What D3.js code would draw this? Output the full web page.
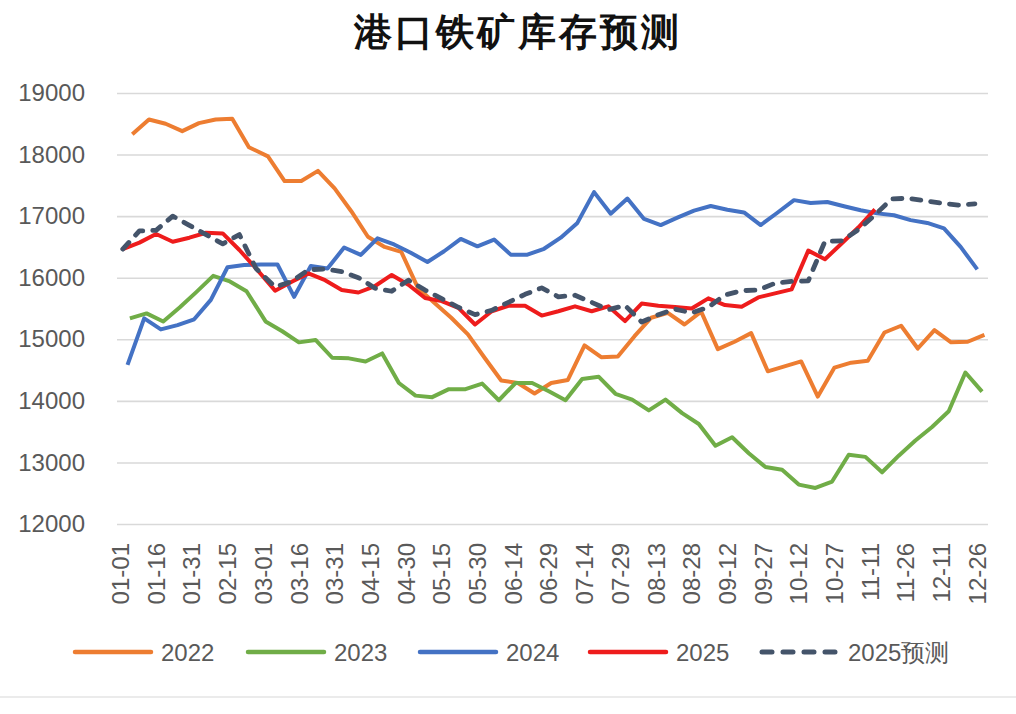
<!DOCTYPE html>
<html>
<head>
<meta charset="utf-8">
<script src="https://cdn.jsdelivr.net/npm/d3@7"></script>
<style>
  body { margin: 0; background: #fff; }
  text { font-family: "Liberation Sans", Arial, sans-serif; }
</style>
</head>
<body>
<div id="chart"></div>
<script>
/* DATA */
// weekly port iron ore inventory (10k t), first report date of each year
const years = ["2022", "2023", "2024", "2025", "2025预测"];
const startDates = ["2022-01-07", "2023-01-06", "2024-01-05", "2025-01-03", "2025-01-03"];

const v2022 = [18330, 18570, 18500, 18380, 18510, 18570, 18580, 18120, 17970, 17570, 17570, 17735, 17450,
  17080, 16665, 16500, 16420, 15835, 15590, 15350, 15080, 14700, 14330, 14290, 14120, 14290, 14340, 14900,
  14710, 14720, 15050, 15350, 15430, 15240, 15450, 14840, 14960, 15100, 14480, 14560, 14640, 14070, 14540,
  14620, 14650, 15110, 15220, 14850, 15150, 14950, 14960, 15070];
const v2023 = [15340, 15420, 15290, 15520, 15770, 16030, 15940, 15780, 15290, 15130, 14950, 14990, 14700,
  14690, 14640, 14770, 14290, 14085, 14060, 14190, 14190, 14280, 14010, 14290, 14290, 14155, 14010, 14355,
  14390, 14115, 14020, 13845, 14020, 13800, 13625, 13270, 13410, 13150, 12925, 12880, 12640, 12585, 12690,
  13125, 13090, 12840, 13110, 13355, 13575, 13830, 14460, 14150];
const v2024 = [14585, 15340, 15160, 15230, 15325, 15640, 16170, 16205, 16215, 16215, 15690, 16190, 16150,
  16490, 16370, 16640, 16540, 16405, 16255, 16430, 16630, 16510, 16620, 16375, 16375, 16470, 16650, 16890,
  17390, 17040, 17285, 16955, 16855, 16975, 17090, 17165, 17105, 17060, 16855, 17055, 17260, 17215, 17230,
  17160, 17095, 17045, 17015, 16935, 16890, 16800, 16500, 16135];
const v2025 = [16465, 16570, 16710, 16585, 16650, 16730, 16720, 16450, 16150, 15790, 15935, 16070, 15960,
  15800, 15760, 15865, 16045, 15885, 15670, 15620, 15510, 15240, 15455, 15545, 15545, 15385, 15455, 15535,
  15455, 15535, 15295, 15580, 15545, 15525, 15500, 15665, 15555, 15530, 15680, 15745, 15810, 16440, 16300,
  16555, 16815, 17110];
const vForecast = [16465, 16760, 16770, 17000, 16850, 16700, 16550, 16700, 16150, 15850, 15940, 16130, 16140,
  16100, 16000, 15830, 15780, 15960, 15800, 15660, 15520, 15400, 15470, 15600, 15730, 15835, 15690, 15715,
  15600, 15480, 15550, 15280, 15400, 15490, 15430, 15520, 15720, 15790, 15800, 15910, 15940, 15950, 16590,
  16600, 16780, 17020, 17280, 17290, 17250, 17210, 17180, 17200];

const seriesValues = [v2022, v2023, v2024, v2025, vForecast];
const tickLabels = ["01-01", "01-16", "01-31", "02-15", "03-01", "03-16", "03-31", "04-15", "04-30",
  "05-15", "05-30", "06-14", "06-29", "07-14", "07-29", "08-13", "08-28", "09-12", "09-27", "10-12",
  "10-27", "11-11", "11-26", "12-11", "12-26"];
const yTicks = [12000, 13000, 14000, 15000, 16000, 17000, 18000, 19000];

/* CONSTANTS */
const width = 1016, height = 714;
const margin = { top: 93, bottom: 190, left: 118, right: 28 };
const colors = ["#ED7D31", "#70AD47", "#4472C4", "#EE1C1C", "#44546A"];
const labelColor = "#595959";

// every date is put on a common (leap) year so the axis reads MM-DD
const dayOfYear = (m, d) => (Date.UTC(2024, m, d) - Date.UTC(2024, 0, 1)) / 864e5;
const labelDay = s => dayOfYear(+s.slice(0, 2) - 1, +s.slice(3));

const series = years.map((name, k) => {
  const start = new Date(startDates[k] + "T00:00:00Z");
  return {
    name,
    color: colors[k],
    dashed: k === 4,
    points: seriesValues[k].map((v, i) => {
      const dt = new Date(start.getTime() + i * 7 * 864e5);
      return { day: dayOfYear(dt.getUTCMonth(), dt.getUTCDate()), value: v };
    })
  };
});

/* SCALES */
const xScale = d3.scaleLinear()
  .domain([0, 365.5])
  .range([margin.left, width - margin.right]);

const yScale = d3.scaleLinear()
  .domain([12000, 19000])
  .range([height - margin.bottom, margin.top]);

const svg = d3.select("#chart")
  .append("svg")
  .attr("width", width)
  .attr("height", height);

svg.append("rect").attr("width", width).attr("height", height).attr("fill", "#fff");

// title
svg.append("text")
  .attr("x", 518)
  .attr("y", 32)
  .attr("text-anchor", "middle")
  .attr("dominant-baseline", "central")
  .attr("font-family", "'Noto Sans CJK SC', sans-serif")
  .attr("font-weight", 700)
  .attr("font-size", 38)
  .attr("letter-spacing", 3)
  .attr("fill", "#111")
  .text("港口铁矿库存预测");

/* AXES */
const yAxis = d3.axisLeft(yScale)
  .tickValues(yTicks)
  .tickSize(-(width - margin.left - margin.right + 1))
  .tickPadding(32)
  .tickFormat(d3.format("d"));

svg.append("g")
  .attr("class", "y-axis")
  .attr("transform", `translate(${margin.left - 1},0)`)
  .call(yAxis)
  .call(g => g.select(".domain").remove())
  .call(g => g.selectAll(".tick line").attr("stroke", "#D9D9D9").attr("stroke-width", 1.6))
  .call(g => g.selectAll(".tick text")
    .attr("font-size", 24)
    .attr("fill", labelColor)
    .attr("font-family", "'Liberation Sans', Arial, sans-serif"));

const xAxis = d3.axisBottom(xScale)
  .tickValues(tickLabels.map(labelDay))
  .tickSize(0)
  .tickFormat((d, i) => tickLabels[i]);

svg.append("g")
  .attr("class", "x-axis")
  .attr("transform", `translate(0,${height - margin.bottom})`)
  .call(xAxis)
  .call(g => g.select(".domain").remove())
  .call(g => g.selectAll(".tick text")
    .attr("font-size", 24)
    .attr("fill", labelColor)
    .attr("font-family", "'Liberation Sans', Arial, sans-serif")
    .attr("text-anchor", "end")
    .attr("dominant-baseline", "central")
    .attr("dy", null)
    .attr("y", 0)
    .attr("transform", "translate(2,19) rotate(-90)"));

/* LINES */
const line = d3.line()
  .x(d => xScale(d.day))
  .y(d => yScale(d.value));

svg.append("g")
  .selectAll("path")
  .data(series)
  .join("path")
  .attr("d", d => line(d.points))
  .attr("fill", "none")
  .attr("stroke", d => d.color)
  .attr("stroke-width", d => d.dashed ? 4.8 : 4)
  .attr("stroke-linejoin", "round")
  .attr("stroke-linecap", d => d.dashed ? "round" : "butt")
  .attr("stroke-dasharray", d => d.dashed ? "9 10" : null);

/* LEGEND */
const legendX = [75, 248, 420, 590, 762];
const legendY = 652;
const legend = svg.append("g")
  .selectAll("g")
  .data(series)
  .join("g")
  .attr("transform", (d, i) => `translate(${legendX[i]},${legendY})`);

legend.append("line")
  .attr("x1", 0)
  .attr("x2", d => d.dashed ? 76 : 76)
  .attr("stroke", d => d.color)
  .attr("stroke-width", d => d.dashed ? 5 : 4.5)
  .attr("stroke-linecap", "round")
  .attr("stroke-dasharray", d => d.dashed ? "10 11" : null);

legend.append("text")
  .attr("x", 86)
  .attr("dominant-baseline", "central")
  .attr("font-size", 24)
  .attr("fill", labelColor)
  .text(d => d.name);

// bottom frame line
svg.append("line")
  .attr("x1", 0).attr("x2", width)
  .attr("y1", 697).attr("y2", 697)
  .attr("stroke", "#E4E4E4")
  .attr("stroke-width", 1.5);
</script>
</body>
</html>
